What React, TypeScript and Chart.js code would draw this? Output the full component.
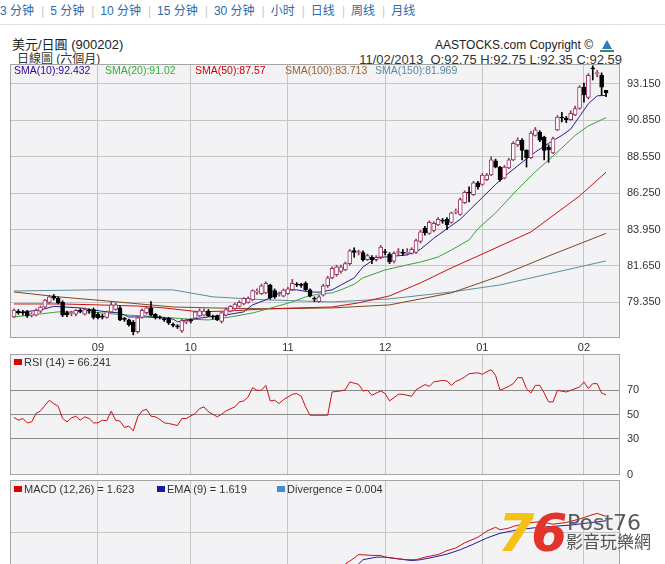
import React, { useEffect, useRef } from 'react';
import { Chart, registerables } from 'chart.js';

Chart.register(...registerables);

// ---------------- data ----------------
const monthTickIdx = [19, 40, 62, 84, 106, 129];
const monthLabels = ['09', '10', '11', '12', '01', '02'];
const priceTicks = [79.35, 81.65, 83.95, 86.25, 88.55, 90.85, 93.15];
const rsiTicks = [0, 30, 50, 70];
const macdTicks = [1.2];

const opens = [78.43,78.78,78.72,78.75,78.55,78.55,78.80,79.05,79.35,79.75,
79.62,79.35,78.70,78.65,78.60,78.82,78.60,78.85,78.90,78.60,
78.45,78.40,78.75,78.90,79.00,78.30,78.25,78.10,77.50,78.40,
78.70,79.00,78.60,78.42,78.30,78.35,77.95,77.85,77.55,78.10,
78.20,78.35,78.50,78.55,78.80,78.45,78.50,78.15,78.55,78.80,
78.95,79.10,79.25,79.35,79.50,80.00,79.90,79.95,80.45,80.10,
79.85,79.75,79.90,80.15,80.50,80.45,80.55,80.15,79.60,79.40,
79.80,80.40,80.90,81.10,81.30,81.40,81.80,82.62,82.50,82.50,
82.05,82.20,82.05,82.20,82.55,82.40,81.95,82.50,82.50,82.45,
82.45,82.50,83.20,84.05,83.70,83.90,84.25,84.50,84.60,84.40,
85.05,84.90,85.65,86.30,86.15,86.90,86.80,87.10,87.40,88.30,
87.90,87.20,87.85,88.35,89.30,89.60,88.95,88.50,89.90,90.10,
89.80,89.15,88.80,90.25,91.05,91.00,90.90,91.20,91.60,92.95,
92.30,94.15,93.80,93.70,92.75];

const highs = [78.95,78.90,78.85,78.85,78.70,78.95,79.12,79.55,79.80,79.85,
79.70,79.45,78.80,78.80,78.90,78.95,79.00,78.95,79.00,78.70,
78.60,78.80,79.40,79.30,79.10,78.40,78.30,78.20,78.45,78.95,
79.10,79.40,78.65,78.50,78.40,78.40,78.05,77.95,78.30,78.30,
78.30,78.80,78.95,78.95,78.90,78.55,78.55,78.75,79.00,79.15,
79.30,79.45,79.65,79.70,80.15,80.20,80.50,80.65,80.50,80.20,
80.00,80.20,80.30,80.80,80.60,80.55,80.65,80.20,79.70,79.80,
80.50,81.00,81.60,81.70,81.70,81.90,82.70,82.80,82.65,82.60,
82.40,82.30,82.30,82.95,82.70,82.50,82.55,82.75,82.70,82.75,
82.80,83.35,83.90,84.15,84.50,84.45,84.70,84.65,84.70,85.05,
85.25,85.95,86.40,86.65,87.00,87.00,87.50,87.50,88.55,88.40,
87.95,88.00,88.45,89.50,89.75,89.70,89.00,90.15,90.40,90.20,
89.85,89.30,89.80,91.15,91.35,91.10,91.45,91.75,93.05,93.20,
93.80,94.30,94.00,93.85,92.75];

const lows = [78.38,78.60,78.55,78.40,78.42,78.50,78.70,79.00,79.30,79.50,
79.25,78.45,78.45,78.50,78.50,78.70,78.55,78.65,78.30,78.30,
78.30,78.35,78.70,78.85,78.20,78.15,77.85,77.30,77.40,78.35,
78.60,78.50,78.30,78.30,78.15,77.95,77.80,77.70,77.45,78.00,
78.05,78.30,78.45,78.50,78.45,78.30,78.20,78.05,78.50,78.75,
78.90,79.05,79.20,79.30,79.45,79.85,79.85,79.90,79.55,79.60,
79.75,79.70,79.85,80.10,80.35,80.30,80.10,79.70,79.40,79.35,
79.75,80.30,80.85,81.00,81.20,81.35,81.70,82.20,82.35,81.95,
82.00,81.80,81.95,82.10,82.35,81.80,81.85,82.30,82.30,82.35,
82.40,82.45,83.10,83.60,83.65,83.80,84.20,84.35,83.95,84.35,
84.95,84.85,85.60,85.70,86.10,86.50,86.75,87.05,87.35,87.85,
87.00,87.15,87.80,88.30,89.20,88.35,87.90,88.45,89.85,89.50,
88.35,88.20,88.75,90.20,90.75,90.70,90.85,91.15,91.55,92.00,
92.20,93.40,93.60,92.45,92.35];

const closes = [78.87,78.70,78.68,78.50,78.60,78.85,79.05,79.50,79.70,79.62,
79.32,78.55,78.58,78.68,78.85,78.78,78.90,78.82,78.40,78.38,
78.42,78.75,79.20,79.20,78.25,78.28,77.95,77.50,78.38,78.85,
79.00,78.55,78.40,78.38,78.25,78.05,77.90,77.80,78.20,78.22,
78.18,78.75,78.82,78.80,78.50,78.42,78.25,78.70,78.90,79.10,
79.25,79.35,79.60,79.60,80.10,80.05,80.40,80.55,79.65,79.70,
79.90,80.12,80.20,80.55,80.45,80.42,80.15,79.75,79.55,79.70,
80.40,80.90,81.50,81.60,81.60,81.80,82.60,82.50,82.52,82.05,
82.30,82.05,82.20,82.85,82.50,81.90,82.45,82.55,82.45,82.50,
82.70,83.25,83.80,83.75,84.40,84.35,84.60,84.48,84.25,85.00,
85.10,85.85,86.30,86.25,86.90,86.65,87.40,87.40,88.35,87.90,
87.10,87.90,88.35,89.40,89.60,88.95,88.50,90.05,90.25,89.60,
88.95,89.00,89.70,91.05,91.00,90.90,91.30,91.60,92.95,92.45,
93.70,94.10,93.85,92.95,92.59];

// moving averages as [candle index, value]
const sma10 = [[0,78.68],[6,78.87],[9,79.1],[12,79.05],[15,79.0],[18,78.87],[21,78.75],[24,78.68],[26,78.43],[30,78.43],[33,78.37],[36,78.3],[37,78.12],[39,78.24],[44,78.43],[48,78.56],[52,78.75],[54,79.19],[57,79.51],[59,79.82],[62,80.14],[64,80.14],[67,80.0],[69,80.0],[72,80.14],[74,80.45],[77,80.9],[79,81.59],[82,82.16],[84,82.22],[89,82.35],[92,82.7],[95,83.4],[98,84.0],[101,84.6],[105,85.7],[109,86.8],[111,87.3],[115,88.2],[118,88.85],[121,89.4],[124,89.9],[126,90.3],[128,91.1],[130,91.9],[132,92.4],[134,92.43]];
const sma20 = [[0,78.43],[10,78.75],[17,78.75],[25,78.56],[33,78.43],[39,78.3],[44,78.24],[49,78.43],[54,78.68],[59,79.06],[63,79.38],[66,79.7],[69,79.88],[72,79.95],[74,80.14],[77,80.5],[79,80.9],[84,81.4],[89,81.72],[92,81.9],[96,82.22],[99,82.66],[103,83.3],[105,84.0],[109,85.0],[114,86.5],[118,87.6],[121,88.35],[124,89.1],[127,89.9],[130,90.5],[134,91.02]];
const sma50 = [[0,79.25],[11,79.25],[19,79.19],[28,79.12],[34,79.0],[42,78.75],[49,78.81],[57,78.94],[64,79.0],[72,79.06],[78,79.32],[85,79.76],[92,80.58],[99,81.53],[105,82.28],[117,83.8],[128,86.07],[134,87.57]];
const sma100 = [[0,80.01],[10,79.7],[21,79.44],[36,79.06],[45,79.0],[57,78.94],[72,79.0],[85,79.19],[99,79.95],[110,81.02],[121,82.28],[134,83.71]];
const sma150 = [[0,80.07],[17,80.14],[36,80.14],[45,79.7],[57,79.51],[72,79.38],[85,79.57],[99,80.01],[110,80.45],[121,81.15],[134,81.97]];

const rsi14 = [[0,47.5],[1,45.3],[2,46.7],[3,43.1],[4,43.9],[5,50.8],[6,53.0],[7,57.5],[8,61.8],[9,59.0],[10,56.8],[11,46.7],[12,43.9],[13,47.2],[14,48.6],[15,45.3],[16,48.1],[17,46.7],[18,43.1],[19,43.1],[20,45.3],[21,44.8],[22,52.7],[23,45.3],[24,44.5],[25,39.3],[26,40.4],[27,36.5],[28,48.1],[29,53.0],[30,54.4],[31,48.6],[32,48.1],[33,45.9],[34,43.1],[35,42.6],[37,40.9],[38,46.7],[39,46.7],[41,50.8],[42,54.9],[43,56.3],[44,52.2],[45,50.2],[46,48.1],[47,50.2],[48,53.0],[50,56.3],[51,60.4],[52,61.2],[53,64.5],[54,72.2],[55,70.0],[56,70.0],[57,74.1],[58,61.2],[59,61.8],[60,59.0],[61,62.3],[63,66.7],[64,67.3],[65,65.1],[66,56.3],[67,49.4],[69,49.4],[71,49.4],[72,68.6],[74,69.5],[75,70.5],[76,76.9],[78,74.9],[79,69.5],[80,70.0],[81,65.9],[83,69.5],[84,67.3],[85,61.2],[87,66.7],[88,66.7],[90,65.1],[91,70.5],[93,74.7],[94,73.3],[95,76.9],[97,78.2],[98,77.7],[99,74.1],[100,77.4],[101,78.8],[102,81.0],[103,83.7],[105,84.5],[106,83.2],[107,85.4],[108,87.0],[109,82.3],[110,70.0],[112,73.3],[113,75.5],[114,80.4],[115,80.4],[116,71.4],[117,67.8],[118,74.1],[119,74.1],[120,67.8],[121,60.4],[122,60.4],[123,70.0],[125,68.6],[126,70.0],[128,72.7],[129,76.9],[130,71.4],[131,75.5],[132,75.5],[133,67.8],[134,66.2]];

const macdLine = [[0,0.05],[10,0.15],[20,-0.1],[30,-0.25],[40,-0.2],[50,0.05],[60,0.3],[68,0.2],[72,0.3],[75,0.46],[77,0.6],[78,0.68],[81,0.66],[83,0.66],[84,0.62],[87,0.58],[89,0.56],[91,0.56],[93,0.62],[96,0.68],[98,0.77],[100,0.83],[102,0.95],[105,1.08],[107,1.22],[109,1.31],[110,1.25],[112,1.29],[113,1.33],[116,1.4],[119,1.44],[122,1.38],[125,1.42],[128,1.5],[130,1.57],[132,1.63],[134,1.56]];
const emaLine = [[0,0.1],[10,0.1],[20,0.0],[30,-0.2],[40,-0.22],[50,-0.05],[60,0.2],[70,0.25],[75,0.35],[78,0.46],[79,0.56],[82,0.62],[84,0.62],[87,0.58],[90,0.54],[92,0.56],[95,0.62],[98,0.69],[101,0.79],[104,0.92],[107,1.06],[110,1.17],[114,1.25],[118,1.3],[122,1.33],[126,1.36],[130,1.41],[134,1.46]];

// ---------------- layout / style constants ----------------
const X_MIN = -0.905;
const X_MAX = 137.16;
const GRID = '#c6c6c6';
const PANEL_BG = '#f3f3f5';
const UP = '#993366';
const FONT = '"Liberation Sans", Arial, "Noto Sans CJK TC", sans-serif';

Chart.defaults.font.family = '"Liberation Sans", Arial, sans-serif';
Chart.defaults.font.size = 11;
Chart.defaults.color = '#333';

const panelPlugin: any = {
  id: 'panelBox',
  beforeDraw(chart: any) {
    const { ctx, chartArea: a } = chart;
    ctx.save();
    ctx.fillStyle = PANEL_BG;
    ctx.fillRect(a.left, a.top, a.right - a.left, a.bottom - a.top);
    ctx.restore();
  },
  afterDraw(chart: any) {
    const { ctx, chartArea: a } = chart;
    ctx.save();
    ctx.strokeStyle = '#a4a4a4';
    ctx.lineWidth = 1;
    ctx.strokeRect(Math.round(a.left) + 0.5, Math.round(a.top) + 0.5,
      Math.round(a.right - a.left) - 1, Math.round(a.bottom - a.top) - 1);
    ctx.restore();
  },
};

function xAxis(showLabels: boolean, h: number) {
  return {
    type: 'linear', min: X_MIN, max: X_MAX, bounds: 'data', offset: false,
    afterBuildTicks: (s: any) => { s.ticks = monthTickIdx.map((v) => ({ value: v })); },
    afterFit: (s: any) => { s.height = h; s.paddingLeft = 0; s.paddingRight = 0; },
    grid: { color: GRID, drawTicks: false, offset: false },
    border: { display: false },
    ticks: {
      display: showLabels, padding: 3, autoSkip: false, maxRotation: 0, minRotation: 0,
      color: '#333', font: { size: 11 },
      callback: (_v: any, i: number) => monthLabels[i],
    },
  };
}

function yAxis(min: number, max: number, ticks: number[], showLabels: boolean, gridColor: any, fmt: (v: number) => string) {
  return {
    type: 'linear', position: 'right', min, max, bounds: 'data',
    afterBuildTicks: (s: any) => { s.ticks = ticks.map((v) => ({ value: v })); },
    afterFit: (s: any) => { s.width = 45; s.paddingTop = 0; s.paddingBottom = 0; },
    grid: { color: gridColor, drawTicks: false },
    border: { display: false },
    ticks: { display: showLabels, padding: 7, color: '#333', font: { size: 11 }, callback: (v: any) => fmt(Number(v)) },
  };
}

const toPts = (arr: number[][]) => arr.map(([x, y]) => ({ x, y }));

function lineDs(pts: number[][], color: string, width: number, order: number) {
  return {
    type: 'line', data: toPts(pts), borderColor: color, borderWidth: width,
    pointRadius: 0, tension: 0, fill: false, order,
  };
}

const commonOpts = {
  responsive: false, animation: false, events: [],
  plugins: { legend: { display: false }, tooltip: { enabled: false } },
};

function mainConfig(): any {
  const idx = closes.map((_, i) => i);
  const up = closes.map((c, i) => c >= opens[i]);
  return {
    type: 'bar',
    data: {
      datasets: [
        lineDs(sma150, '#5f8d9e', 1, 10),
        lineDs(sma100, '#7a4a1f', 1, 9),
        lineDs(sma50, '#cc1111', 1, 8),
        lineDs(sma20, '#3f9f3f', 1, 7),
        lineDs(sma10, '#2a1a90', 1, 6),
        {
          type: 'bar', data: idx.map((i) => ({ x: i, y: [lows[i], highs[i]] })),
          backgroundColor: up.map((u) => (u ? UP : '#000')), borderWidth: 0,
          barThickness: 1, grouped: false, order: 4,
        },
        {
          type: 'bar', data: idx.map((i) => ({ x: i, y: [opens[i], closes[i]] })),
          backgroundColor: up.map((u) => (u ? '#ffffff' : '#000000')),
          borderColor: up.map((u) => (u ? UP : '#000000')),
          borderWidth: 1, borderSkipped: false, barThickness: 4, minBarLength: 1,
          grouped: false, order: 3,
        },
      ],
    },
    options: {
      ...commonOpts,
      layout: { padding: { left: 10, top: 4, right: 0, bottom: 0 } },
      scales: {
        x: xAxis(true, 22),
        y: yAxis(77.1, 94.41, priceTicks, true, GRID, (v) => v.toFixed(3)),
      },
    },
    plugins: [panelPlugin],
  };
}

function rsiConfig(): any {
  return {
    type: 'line',
    data: { datasets: [lineDs(rsi14, '#cc1111', 1, 1)] },
    options: {
      ...commonOpts,
      layout: { padding: { left: 10, top: 4, right: 0, bottom: 0 } },
      scales: {
        x: xAxis(false, 5),
        y: yAxis(0, 100, rsiTicks, true,
          (c: any) => (c.tick && c.tick.value === 0 ? 'rgba(0,0,0,0)' : '#8a8a8a'),
          (v) => String(Math.round(v))),
      },
    },
    plugins: [panelPlugin],
  };
}

function macdConfig(): any {
  return {
    type: 'line',
    data: {
      datasets: [
        lineDs(emaLine, '#1c1ca0', 1, 2),
        lineDs(macdLine, '#cc1111', 1, 1),
      ],
    },
    options: {
      ...commonOpts,
      layout: { padding: { left: 10, top: 2, right: 0, bottom: 0 } },
      scales: {
        x: xAxis(false, 14),
        y: yAxis(0, 2.4, macdTicks, false, GRID, (v) => v.toFixed(2)),
      },
    },
    plugins: [panelPlugin],
  };
}

const navItems = ['3 分钟', '5 分钟', '10 分钟', '15 分钟', '30 分钟', '小时', '日线', '周线', '月线'];

const abs = (left: number, top: number, extra: any = {}) => ({ position: 'absolute', left, top, whiteSpace: 'nowrap', ...extra });

export default function App() {
  const mainRef = useRef<HTMLCanvasElement>(null);
  const rsiRef = useRef<HTMLCanvasElement>(null);
  const macdRef = useRef<HTMLCanvasElement>(null);

  useEffect(() => {
    const charts: any[] = [];
    if (mainRef.current) charts.push(new Chart(mainRef.current, mainConfig()));
    if (rsiRef.current) charts.push(new Chart(rsiRef.current, rsiConfig()));
    if (macdRef.current) charts.push(new Chart(macdRef.current, macdConfig()));
    return () => charts.forEach((c) => c.destroy());
  }, []);

  const legendSquare = (color: string) => (
    <span style={{ display: 'inline-block', width: 8, height: 6, background: color, marginRight: 2, verticalAlign: 'middle', position: 'relative', top: -1 }} />
  );

  return (
    <div style={{ position: 'fixed', left: 0, top: 0, width: 665, height: 564, overflow: 'hidden', background: '#fff', fontFamily: FONT, color: '#222' } as any}>
      {/* navigation */}
      <div style={abs(0, 3, { fontSize: 12, lineHeight: '16px', fontFamily: '"Liberation Sans", Arial, "Noto Sans CJK SC", sans-serif', color: '#2c6aa6' }) as any}>
        {navItems.map((t, i) => (
          <span key={t}>
            {i > 0 && <span style={{ color: '#c8c8c8', margin: '0 6px 0 7px' }}>|</span>}
            <span>{t}</span>
          </span>
        ))}
      </div>
      <div style={abs(0, 24, { width: 665, height: 1, background: '#e2e2e2' }) as any} />

      {/* header */}
      <div style={abs(12, 37, { fontSize: 13, lineHeight: '16px', color: '#222' }) as any}>美元/日圓 (900202)</div>
      <div style={abs(17, 52, { fontSize: 12, lineHeight: '15px', color: '#333' }) as any}>日線圖 (六個月)</div>
      <div style={abs(0, 38, { width: 593, textAlign: 'right', fontSize: 12, lineHeight: '15px', color: '#222' }) as any}>AASTOCKS.com Copyright ©</div>
      <div style={abs(602, 40, { width: 0, height: 0, borderLeft: '5px solid transparent', borderRight: '5px solid transparent', borderBottom: '9px solid #2e7cc0' }) as any} />
      <div style={abs(600, 50, { width: 14, height: 2, background: '#3a8a5a' }) as any} />
      <div style={abs(0, 52, { width: 622, textAlign: 'right', fontSize: 13, lineHeight: '15px', color: '#333' }) as any}>11/02/2013&nbsp;&nbsp;O:92.75 H:92.75 L:92.35 C:92.59</div>

      {/* canvases */}
      <canvas ref={mainRef} width={665} height={300} style={{ position: 'absolute', left: 0, top: 60, width: 665, height: 300 }} />
      <canvas ref={rsiRef} width={665} height={130} style={{ position: 'absolute', left: 0, top: 350, width: 665, height: 130 }} />
      <canvas ref={macdRef} width={665} height={120} style={{ position: 'absolute', left: 0, top: 478, width: 665, height: 120 }} />

      {/* main legend */}
      <div style={abs(14, 64, { fontSize: 10.5, lineHeight: '12px', color: '#330099' }) as any}>SMA(10):92.432</div>
      <div style={abs(105, 64, { fontSize: 10.5, lineHeight: '12px', color: '#33b033' }) as any}>SMA(20):91.02</div>
      <div style={abs(195, 64, { fontSize: 10.5, lineHeight: '12px', color: '#cc0000' }) as any}>SMA(50):87.57</div>
      <div style={abs(285, 64, { fontSize: 10.5, lineHeight: '12px', color: '#a0632e' }) as any}>SMA(100):83.713</div>
      <div style={abs(375, 64, { fontSize: 10.5, lineHeight: '12px', color: '#5a8a9e' }) as any}>SMA(150):81.969</div>

      {/* RSI legend */}
      <div style={abs(14, 356, { fontSize: 11, lineHeight: '13px', color: '#333' }) as any}>{legendSquare('#dd0000')}RSI (14) = 66.241</div>

      {/* MACD legend */}
      <div style={abs(14, 483, { fontSize: 11, lineHeight: '13px', color: '#333' }) as any}>{legendSquare('#dd0000')}MACD (12,26) = 1.623</div>
      <div style={abs(157, 483, { fontSize: 11, lineHeight: '13px', color: '#333' }) as any}>{legendSquare('#1c1ca0')}EMA (9) = 1.619</div>
      <div style={abs(277, 483, { fontSize: 11, lineHeight: '13px', color: '#333' }) as any}>{legendSquare('#3d8fd0')}Divergence = 0.004</div>

      {/* watermark */}
      <div style={abs(498, 505, { fontFamily: '"DejaVu Sans", sans-serif', fontSize: 52, fontWeight: 900, fontStyle: 'italic', lineHeight: '56px', letterSpacing: -3 }) as any}>
        <span style={{ color: '#f5c116' }}>7</span><span style={{ color: '#e3342b' }}>6</span>
      </div>
      <div style={abs(567, 512, { fontFamily: '"DejaVu Sans", sans-serif', fontSize: 22, lineHeight: '22px', color: '#5b5b5b' }) as any}>Post76</div>
      <div style={abs(566, 532, { fontFamily: '"Noto Sans CJK TC", sans-serif', fontSize: 17, lineHeight: '18px', color: '#555' }) as any}>影音玩樂網</div>
    </div>
  );
}
